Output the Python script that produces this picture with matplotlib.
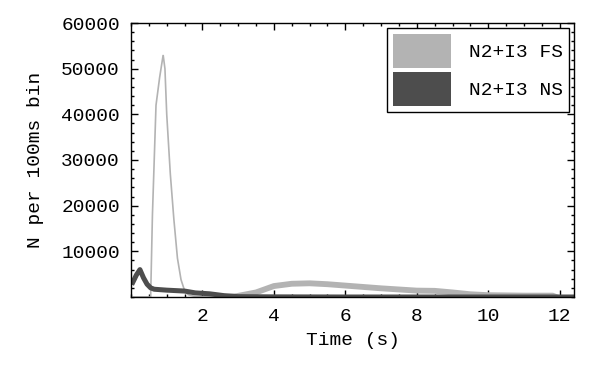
import matplotlib
matplotlib.use("Agg")
import matplotlib.pyplot as plt
import matplotlib.patches as mpatches
from matplotlib.ticker import MultipleLocator

plt.rcParams['font.family'] = ['Liberation Mono', 'DejaVu Sans Mono']

# time (s) and counts per 100 ms bin
fs_time = [0.0, 0.5, 0.55, 0.6, 0.7, 0.8, 0.9, 0.95, 1.0, 1.1, 1.2, 1.3, 1.4, 1.5, 1.6, 1.8, 2.2,
           2.6, 2.9, 3.5, 4.0, 4.5, 5.0, 5.5, 6.0, 6.5, 7.0, 7.5, 8.0, 8.5, 9.0, 9.5, 10.0,
           10.5, 11.0, 11.5, 11.8, 11.9]
fs_counts = [0, 0, 0, 18000, 42000, 48000, 53000, 50000, 40000, 27000, 17000, 8500, 3800, 1400, 500,
             100, 0, 0, 100, 1000, 2400, 2900, 3000, 2800, 2500, 2200, 1900, 1650, 1400, 1350, 1000,
             600, 400, 350, 300, 300, 300, 0]
fs_split = 17  # where the thin peak trace turns into the thick tail

ns_time = [0.05, 0.15, 0.25, 0.35, 0.45, 0.55, 0.65, 1.0, 1.5, 1.8, 2.2, 2.6, 3.0, 4.0, 6.0,
           8.0, 10.0, 12.0, 12.5]
ns_counts = [3200, 4800, 6000, 4200, 2800, 2000, 1700, 1500, 1300, 900, 700, 300, 80, 30, 0,
             0, 0, 0, 0]

labels = ["N2+I3 FS", "N2+I3 NS"]
light = "#b3b3b3"
dark = "#4d4d4d"
fsize = 14

fig = plt.figure(figsize=(5.99, 3.69), dpi=100)
ax = fig.add_axes([131 / 599, 72 / 369, 443 / 599, 274 / 369])

ax.plot(fs_time[:fs_split + 1], fs_counts[:fs_split + 1], color=light, lw=1.2,
        solid_joinstyle='miter')
ax.plot(fs_time[fs_split:], fs_counts[fs_split:], color=light, lw=4.2)
ax.plot(ns_time, ns_counts, color=dark, lw=3.6)

ax.set_xlim(0, 12.4)
ax.set_ylim(0, 60000)
ax.xaxis.set_major_locator(MultipleLocator(2))
ax.xaxis.set_minor_locator(MultipleLocator(0.5))
ax.yaxis.set_major_locator(MultipleLocator(10000))
ax.yaxis.set_minor_locator(MultipleLocator(2000))
ax.set_xticks([2, 4, 6, 8, 10, 12])
ax.set_yticks([10000, 20000, 30000, 40000, 50000, 60000])
ax.tick_params(which='both', direction='in', top=True, right=True, width=1.0,
               labelsize=fsize, colors='black')
ax.tick_params(which='major', length=5, pad=8)
ax.tick_params(which='minor', length=2.5)
for sp in ax.spines.values():
    sp.set_linewidth(1.0)

ax.set_xlabel("Time (s)", fontsize=fsize, labelpad=5)
ax.set_ylabel("N per 100ms bin", fontsize=fsize, labelpad=12)

handles = [mpatches.Patch(facecolor=light, edgecolor='none'),
           mpatches.Patch(facecolor=dark, edgecolor='none')]
leg = ax.legend(handles, labels, loc='upper right', bbox_to_anchor=(0.989, 0.982),
                borderaxespad=0, fontsize=fsize, handlelength=3.0, handleheight=2.31,
                labelspacing=0.2, borderpad=0.32, handletextpad=0.9,
                fancybox=False, framealpha=1, edgecolor='black')
leg.get_frame().set_linewidth(1.0)

fig.savefig("out.png", dpi=100)
